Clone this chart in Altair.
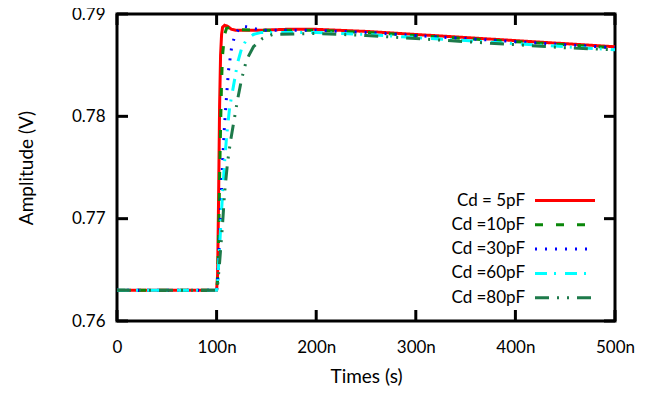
import altair as alt
import pandas as pd

series_names = ["Cd = 5pF", "Cd =10pF", "Cd =30pF", "Cd =60pF", "Cd =80pF"]
series_colors = ["#ff0000", "#0a870a", "#0000ff", "#00ffff", "#1d7a4a"]
series_dashes = [[1, 0], [8, 13], [2, 8], [12, 7, 2, 9], [14, 8, 2, 8, 2, 8]]

t_5 = [0, 100, 101, 102, 103, 104, 105, 106, 108, 111, 115, 120, 140, 170, 200, 250, 300, 350, 400, 450, 500]
v_5 = [0.763, 0.763, 0.7645, 0.772, 0.781, 0.786, 0.7880, 0.7887, 0.7889, 0.7888, 0.7885, 0.7884, 0.7884, 0.7885,
       0.7885, 0.7883, 0.7880, 0.7877, 0.7874, 0.7871, 0.7868]

t_10 = [0, 100, 101, 102, 103, 104, 105, 106, 108, 110, 114, 120, 140, 200, 250, 300, 350, 400, 450, 500]
v_10 = [0.763, 0.763, 0.764, 0.768, 0.774, 0.779, 0.7835, 0.786, 0.7880, 0.7886, 0.7887, 0.7885, 0.7884, 0.7884,
        0.7882, 0.7879, 0.7876, 0.7873, 0.7870, 0.7867]

t_30 = [0, 100, 101, 102, 104, 106, 108, 110, 112, 115, 118, 122, 127, 133, 145, 200, 250, 300, 350, 400, 450, 500]
v_30 = [0.763, 0.763, 0.7638, 0.7660, 0.7705, 0.7755, 0.7792, 0.7820, 0.7845, 0.7867, 0.7878, 0.7885, 0.7888,
        0.7887, 0.7884, 0.7884, 0.7882, 0.7879, 0.7876, 0.7873, 0.7870, 0.7867]

t_60 = [0, 100, 101, 102, 104, 106, 108, 110, 113, 117, 121, 125, 130, 137, 145, 200, 250, 300, 350, 400, 450, 500]
v_60 = [0.763, 0.763, 0.7636, 0.7655, 0.769, 0.7725, 0.7755, 0.7780, 0.7808, 0.7830, 0.7852, 0.7866, 0.7875,
        0.7880, 0.7882, 0.7882, 0.7880, 0.7877, 0.7874, 0.7871, 0.7868, 0.7865]

t_80 = [0, 100, 101, 103, 106, 108, 111, 114, 117, 121, 125, 130, 137, 146, 156, 200, 250, 300, 350, 400, 450, 500]
v_80 = [0.763, 0.763, 0.7635, 0.7657, 0.7695, 0.7725, 0.7755, 0.7776, 0.7793, 0.7816, 0.7836, 0.7855, 0.7868,
        0.7876, 0.7880, 0.7881, 0.7879, 0.7876, 0.7873, 0.7870, 0.7867, 0.7865]

x_ticks = [0, 100, 200, 300, 400, 500]
y_ticks = [0.76, 0.77, 0.78, 0.79]

rows = []
for name, ts, vs in zip(series_names, [t_5, t_10, t_30, t_60, t_80], [v_5, v_10, v_30, v_60, v_80]):
    for i, (t, v) in enumerate(zip(ts, vs)):
        rows.append({"series": name, "t": t, "v": v, "order": i})
df = pd.DataFrame(rows)
xt_df = pd.DataFrame({"t": x_ticks})
yt_df = pd.DataFrame({"v": y_ticks})

FONT = "Lato"
FS = 17
W, H, TL = 498, 307, 11

xscale = alt.Scale(domain=[0, 500], nice=False)
yscale = alt.Scale(domain=[0.76, 0.79], nice=False, zero=False)

x_axis = alt.Axis(
    orient="bottom", values=x_ticks, ticks=False, domain=False, grid=False,
    labelPadding=18, labelFont=FONT, labelFontSize=FS, labelColor="black",
    labelBaseline="top", labelFlush=False,
    labelExpr="datum.value == 0 ? '0' : datum.value + 'n'",
    title="Times (s)", titleFont=FONT, titleFontSize=19, titleFontWeight="normal", titleColor="black",
    titlePadding=12)
y_axis = alt.Axis(
    orient="left", values=y_ticks, ticks=False, domain=False, grid=False,
    labelPadding=12, labelFont=FONT, labelFontSize=FS, labelColor="black",
    format=".2f", labelFlush=False,
    title="Amplitude (V)", titleFont=FONT, titleFontSize=19, titleFontWeight="normal", titleColor="black",
    titlePadding=35)

legend = alt.Legend(
    title=None, orient="none", legendX=391, legendY=178, direction="vertical",
    symbolType="M 3.7,0 L 15.7,0", symbolSize=100, symbolStrokeWidth=3,
    labelAlign="right", labelOffset=0, labelFont=FONT, labelFontSize=FS,
    labelColor="black", rowPadding=6.3, labelLimit=200)

lines = alt.Chart(df).mark_line(strokeWidth=3, clip=True).encode(
    x=alt.X("t:Q", scale=xscale, axis=x_axis),
    y=alt.Y("v:Q", scale=yscale, axis=y_axis),
    color=alt.Color("series:N", sort=series_names,
                    scale=alt.Scale(domain=series_names, range=series_colors),
                    legend=legend),
    strokeDash=alt.StrokeDash("series:N", sort=series_names,
                              scale=alt.Scale(domain=series_names, range=series_dashes),
                              legend=legend),
    order="order:Q",
)

tick_style = dict(color="black", strokeWidth=3)
y_left = alt.Chart(yt_df).mark_rule(**tick_style).encode(
    y=alt.Y("v:Q", scale=yscale, title="Amplitude (V)"), x=alt.value(0), x2=alt.value(TL))
y_right = alt.Chart(yt_df).mark_rule(**tick_style).encode(
    y=alt.Y("v:Q", scale=yscale, title="Amplitude (V)"), x=alt.value(W - TL), x2=alt.value(W))
x_bottom = alt.Chart(xt_df).mark_rule(**tick_style).encode(
    x=alt.X("t:Q", scale=xscale, title="Times (s)"), y=alt.value(H - TL), y2=alt.value(H))
x_top = alt.Chart(xt_df).mark_rule(**tick_style).encode(
    x=alt.X("t:Q", scale=xscale, title="Times (s)"), y=alt.value(0), y2=alt.value(TL))

chart = alt.layer(lines, y_left, y_right, x_bottom, x_top).properties(
    width=W, height=H,
    padding={"left": 109, "top": 6, "right": 22, "bottom": 75},
    autosize=alt.AutoSizeParams(type="none"),
    background="white",
).configure_view(stroke="black", strokeWidth=3)

chart.save("out.html", embed_options={"renderer": "svg", "actions": False})
